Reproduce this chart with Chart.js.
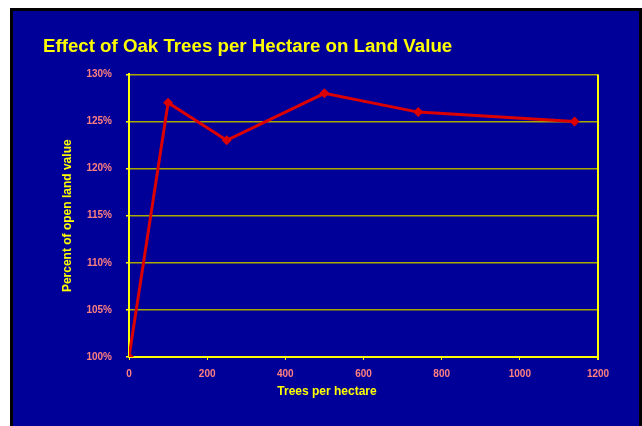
<!DOCTYPE html>
<html>
<head>
<meta charset="utf-8">
<script src="https://cdn.jsdelivr.net/npm/chart.js@4"></script>
<style>
  body { margin:0; background:#ffffff; }
  #panel {
    position:absolute; left:10px; top:8px;
    width:626px; height:418px;
    background:#000099;
    border:3px solid #000000; border-bottom:none;
  }
</style>
</head>
<body>
<div id="panel"><canvas id="chart" width="626" height="415"></canvas></div>
<script>
// data
const treesPerHa = [0, 100, 250, 500, 740, 1140];
const landValuePct = [100, 127, 123, 128, 126, 125];

const xMin = 0, xMax = 1200, xStep = 200;
const yMin = 100, yMax = 130, yStep = 5;

const points = treesPerHa.map((x, i) => ({ x: x, y: landValuePct[i] }));

const tickFont = { family: "Liberation Sans, Arial", size: 10, weight: "bold" };
const titleFont = { family: "Liberation Sans, Arial", size: 12, weight: "bold" };

// right frame edge + x axis title (title sits left of centre in the original)
const extras = {
  id: "extras",
  afterDraw(chart) {
    const { ctx, chartArea } = chart;
    ctx.save();
    ctx.strokeStyle = "#ffff00";
    ctx.lineWidth = 2;
    ctx.beginPath();
    ctx.moveTo(chartArea.right, chartArea.top);
    ctx.lineTo(chartArea.right, chartArea.bottom + 3);
    ctx.stroke();

    ctx.fillStyle = "#ffff00";
    ctx.font = "bold 12px 'Liberation Sans', Arial";
    ctx.textAlign = "center";
    ctx.textBaseline = "middle";
    ctx.fillText("Trees per hectare", 314, 381);
    ctx.restore();
  }
};

new Chart(document.getElementById("chart"), {
  type: "line",
  data: {
    datasets: [{
      data: points,
      borderColor: "#dd0000",
      backgroundColor: "#dd0000",
      borderWidth: 3,
      pointStyle: "rectRot",
      pointRadius: 5,
      pointBorderWidth: 0,
      tension: 0
    }]
  },
  options: {
    responsive: false,
    animation: false,
    layout: { padding: { left: 30, right: 41, top: 0, bottom: 0 } },
    plugins: {
      legend: { display: false },
      tooltip: { enabled: false },
      title: {
        display: true,
        text: "Effect of Oak Trees per Hectare on Land Value",
        align: "start",
        color: "#ffff00",
        font: { family: "Liberation Sans, Arial", size: 18.7, weight: "bold" },
        padding: { top: 25, bottom: 16 }
      }
    },
    scales: {
      x: {
        type: "linear",
        min: xMin, max: xMax,
        afterFit(scale) { scale.height = 69; },
        ticks: { stepSize: xStep, color: "#ff8080", font: tickFont, padding: 8, maxRotation: 0,
          callback: v => String(v) },
        grid: { drawOnChartArea: false, drawTicks: true, tickLength: 3, tickColor: "#ffff00" },
        border: { color: "#ffff00", width: 2 }
      },
      y: {
        min: yMin, max: yMax,
        afterFit(scale) { scale.width = 86; },
        ticks: {
          stepSize: yStep, color: "#ff8080", font: tickFont, padding: 14,
          callback: v => v + "%"
        },
        grid: { color: "#a8a800", lineWidth: 1.5, tickLength: 3, tickColor: "#ffff00" },
        border: { color: "#ffff00", width: 2 },
        title: {
          display: true,
          text: "Percent of open land value",
          color: "#ffff00",
          font: titleFont,
          padding: { top: 17, bottom: 0 }
        }
      }
    }
  },
  plugins: [extras]
});
</script>
</body>
</html>
